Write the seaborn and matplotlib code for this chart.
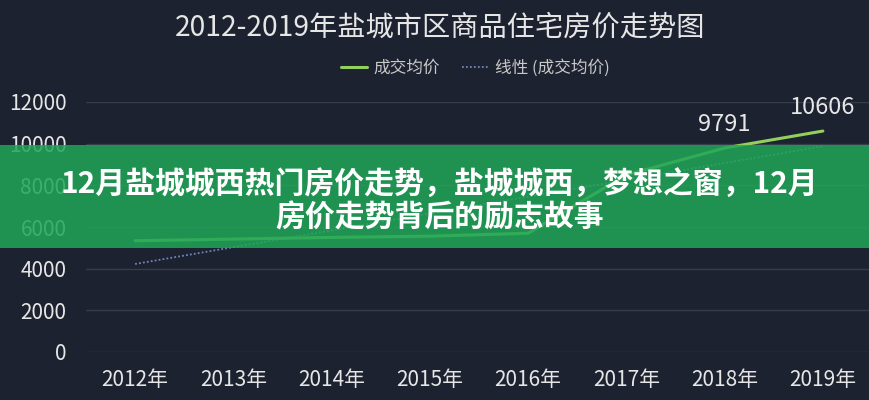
import numpy as np
import pandas as pd
import matplotlib
matplotlib.use("Agg")
import matplotlib.pyplot as plt
import seaborn as sns
from matplotlib.patches import Rectangle

# donnees
annees = ["2012年", "2013年", "2014年", "2015年", "2016年", "2017年", "2018年", "2019年"]
prix_moyen = [5340, 5420, 5500, 5560, 5700, 8500, 9791, 10606]
etiquettes = {6: "9791", 7: "10606"}

titre = "2012-2019年盐城市区商品住宅房价走势图"
legende_serie = "成交均价"
legende_tendance = "线性 (成交均价)"
bandeau_1 = "12月盐城城西热门房价走势，盐城城西，梦想之窗，12月"
bandeau_2 = "房价走势背后的励志故事"

FOND = "#1d2230"
VERT = "#92cf5c"
BLEU = "#6f86b8"
TEXTE = "#e6e6e6"

sns.set_theme(style="dark")
plt.rcParams["font.family"] = ["Noto Sans CJK SC", "DejaVu Sans"]

df = pd.DataFrame({"x": np.arange(len(annees)), "prix": prix_moyen})
# droite de tendance lineaire (comme la courbe "线性" d'Excel)
pente, origine = np.polyfit(df["x"], df["prix"], 1)
df["tendance"] = pente * df["x"] + origine

fig = plt.figure(figsize=(8.69, 4.0), dpi=100, facecolor=FOND)
ax = fig.add_axes([86 / 869, 0.12, 786 / 869, 0.625])
ax.set_facecolor(FOND)

sns.lineplot(data=df, x="x", y="tendance", ax=ax, color=BLEU, linewidth=1.3,
             linestyle=(0, (1, 1.2)), label=legende_tendance)
sns.lineplot(data=df, x="x", y="prix", ax=ax, color=VERT, linewidth=2.2,
             label=legende_serie)

for i, txt in etiquettes.items():
    ax.annotate(txt, (i, prix_moyen[i]), xytext=(0, 9), textcoords="offset points",
                ha="center", va="bottom", color=TEXTE, fontsize=17)

ax.set_xlim(-0.5, 7.5)
ax.set_ylim(0, 12000)
ax.set_yticks(range(0, 12001, 2000))
ax.set_xticks(df["x"])
ax.set_xticklabels(annees)
ax.tick_params(axis="both", colors=TEXTE, labelsize=15, length=0)
ax.tick_params(axis="x", pad=12)
ax.tick_params(axis="y", pad=14)
ax.grid(axis="y", color="#363c4a", linewidth=1)
ax.grid(axis="x", visible=False)
ax.set_xlabel("")
ax.set_ylabel("")
for s in ax.spines.values():
    s.set_visible(False)

handles, labels = ax.get_legend_handles_labels()
leg = ax.legend(handles[::-1], labels[::-1], loc="center", bbox_to_anchor=(0.547, 0.83),
                bbox_transform=fig.transFigure, ncol=2, frameon=False, fontsize=12,
                handlelength=1.6, columnspacing=1.3, handletextpad=0.4)
for t in leg.get_texts():
    t.set_color("#c8c8c8")

fig.text(0.507, 0.93, titre, ha="center", va="center", color=TEXTE, fontsize=20.3)

# bandeau vert en surimpression
fig.patches.append(Rectangle((0, 0.38), 1, 0.2575, transform=fig.transFigure,
                             facecolor=(32 / 255, 166 / 255, 88 / 255), alpha=0.86,
                             edgecolor="none", zorder=5))
fig.text(0.506, 0.5375, bandeau_1, ha="center", va="center", color="white", fontsize=21.5,
         fontweight="bold", zorder=6)
fig.text(0.506, 0.455, bandeau_2, ha="center", va="center", color="white", fontsize=21.5,
         fontweight="bold", zorder=6)

fig.savefig("out.png", dpi=100, facecolor=FOND)
